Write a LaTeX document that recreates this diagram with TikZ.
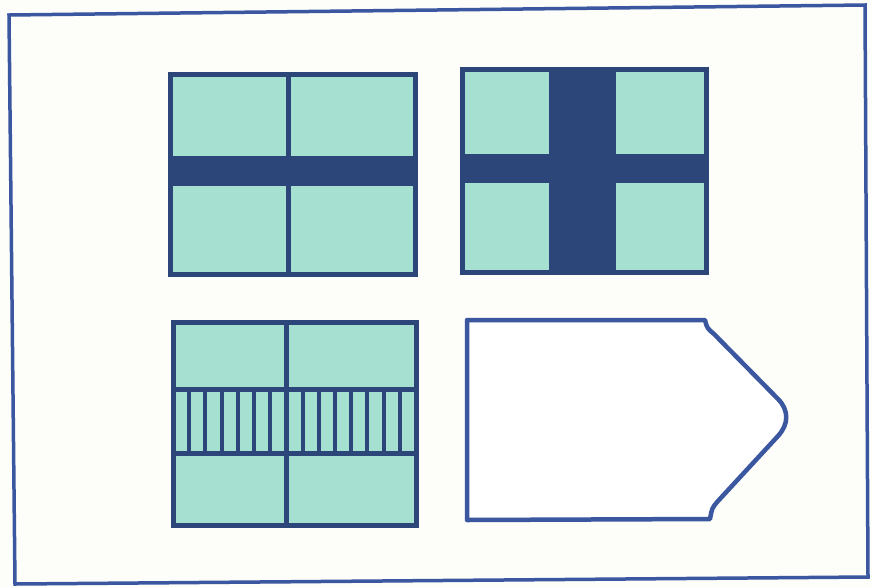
\documentclass[tikz,border=0pt]{standalone}
\usepackage{tikz}
\usepackage{xcolor}
\definecolor{paperbg}{HTML}{FDFDFA}
\definecolor{inknavy}{HTML}{2C4679}
\definecolor{inkblue}{HTML}{3A57A0}
\definecolor{mintfill}{HTML}{A6E0D0}
\tikzset{
  frame/.style ={draw=inkblue, line width=3.5pt, line join=miter},
  panel/.style ={draw=inknavy, fill=mintfill, line width=5pt, line join=miter},
  divider/.style={draw=inknavy, line width=5pt},
  stripe/.style={draw=inknavy, line width=4pt},
  crossbar/.style={fill=inknavy},
  tag/.style   ={draw=inkblue, fill=white, line width=4.5pt, line join=round},
}

\begin{document}
\begin{tikzpicture}[x=1pt, y=-1pt]
\useasboundingbox (0,0) rectangle (872,587);
\fill[paperbg] (0,0) rectangle (872,587);

% ---------------------------------------------------------------- frame
\draw[frame] (9,15) -- (865,5) -- (868,577) -- (15,584) -- cycle;

% ---------------------------------------------------------------- top left: flat bar
\filldraw[panel] (170,74) rectangle (415,274);
\draw[divider] (288,74) -- (288,274);
\fill[crossbar] (170,156) rectangle (415,186);
\draw[draw=inknavy, line width=5pt] (170,74) rectangle (415,274);

% ---------------------------------------------------------------- top right: cross
\filldraw[panel] (462,69) rectangle (706,272);
\fill[crossbar] (549,69) rectangle (616,272);
\fill[crossbar] (462,154) rectangle (706,183);
\draw[draw=inknavy, line width=5pt] (462,69) rectangle (706,272);

% ---------------------------------------------------------------- bottom left: striped band
\filldraw[panel] (173,322) rectangle (416,525);
\draw[divider] (173,389) -- (416,389);
\draw[divider] (173,453) -- (416,453);
\foreach \k in {1,...,14}
  \draw[stripe] ({173+243*\k/15},389) -- ({173+243*\k/15},453);
\draw[divider] ({173+243*7/15},322) -- ({173+243*7/15},525);
\draw[draw=inknavy, line width=5pt] (173,322) rectangle (416,525);

% ---------------------------------------------------------------- bottom right: tag outline
\draw[tag] (467,320) -- (705,320)
  .. controls (707,328) .. (714,334)
  -- (778,399) .. controls (789,410) and (789,424) .. (778,436)
  -- (718,501) .. controls (712,508) .. (710,519)
  -- (467,520) -- cycle;

\end{tikzpicture}
\end{document}
